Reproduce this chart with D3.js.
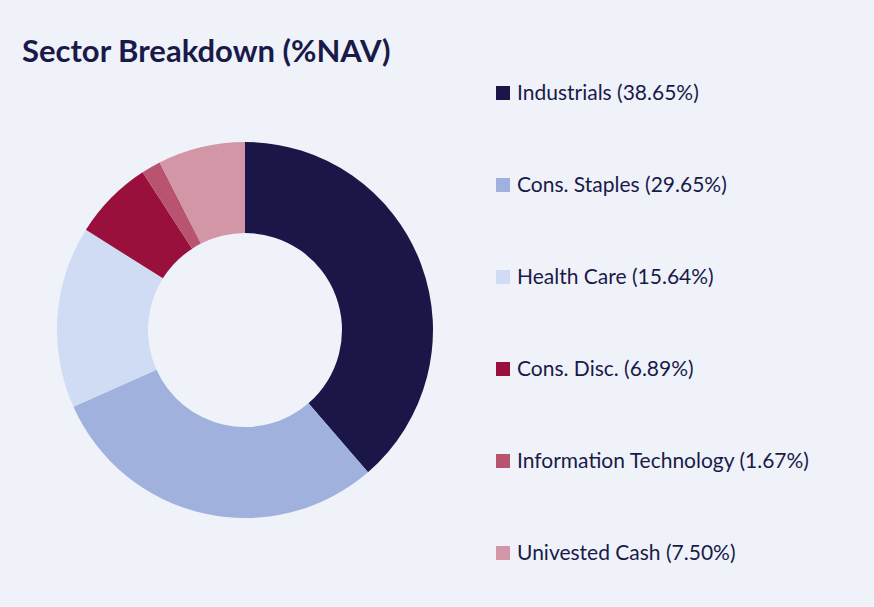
<!DOCTYPE html>
<html><head><meta charset="utf-8">
<script src="https://cdn.jsdelivr.net/npm/d3@7"></script>
<style>body{margin:0;background:#eff3f9;}svg{display:block;font-family:Lato,"Noto Sans",sans-serif;}</style>
</head><body>
<script>
// sector data
var sectors = ["Industrials", "Cons. Staples", "Health Care", "Cons. Disc.", "Information Technology", "Univested Cash"]
var weights = [38.65, 29.65, 15.64, 6.89, 1.67, 7.50]
var colours = ["#1a1647", "#9fb1dc", "#cfdcf3", "#9a103c", "#b85470", "#d396a6"]

var W = 874, H = 607
var svg = d3.select("body").append("svg").attr("width", W).attr("height", H)
svg.append("rect").attr("width", W).attr("height", H).attr("fill", "#eff3f9")

svg.append("text").attr("x", 22).attr("y", 62)
	.attr("font-size", 31).attr("font-weight", 700).attr("fill", "#1a1a4a")
	.text("Sector Breakdown (%NAV)")

var pie = d3.pie().sort(null).value(function(d) { return d })
var arc = d3.arc().innerRadius(97).outerRadius(188)
var g = svg.append("g").attr("transform", "translate(245,330)")
g.selectAll("path").data(pie(weights)).enter().append("path")
	.attr("d", arc).attr("fill", function(d, i) { return colours[i] })

var y = d3.scalePoint().domain(sectors).range([100, 560])
var leg = svg.selectAll(".leg").data(sectors).enter().append("g")
	.attr("transform", function(d) { return "translate(496," + y(d) + ")" })
leg.append("rect").attr("x", 0).attr("y", -14).attr("width", 14).attr("height", 14)
	.attr("fill", function(d, i) { return colours[i] })
leg.append("text").attr("x", 21).attr("y", 0).attr("font-size", 21).attr("fill", "#1a1a4a")
	.text(function(d, i) { return d + " (" + weights[i].toFixed(2) + "%)" })
</script>
</body></html>
